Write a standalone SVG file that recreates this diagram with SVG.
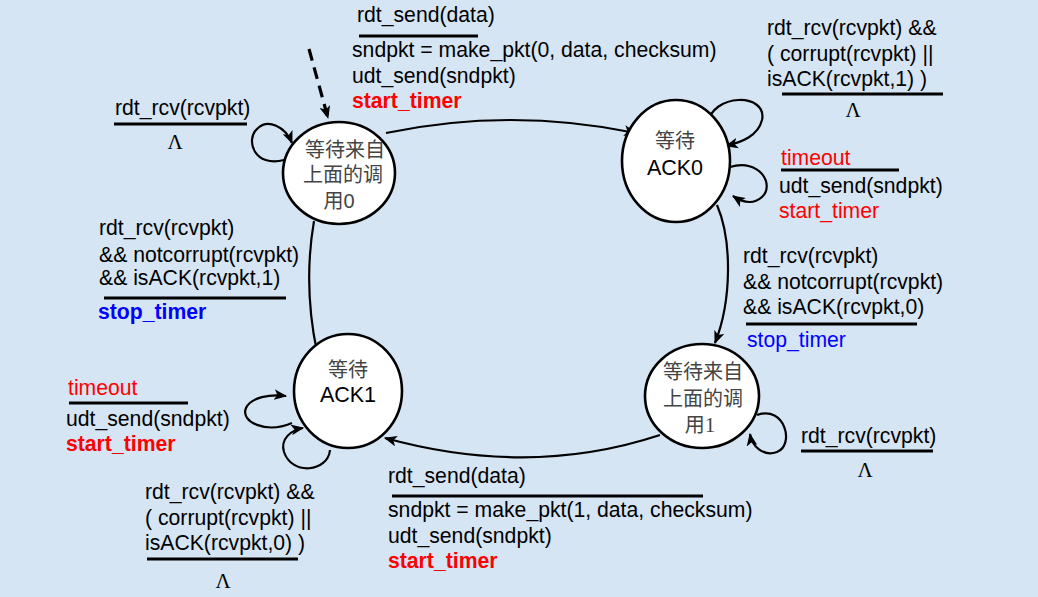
<svg xmlns="http://www.w3.org/2000/svg" width="1038" height="597" viewBox="0 0 1038 597">
<defs>
<marker id="ah" viewBox="0 0 12 10" refX="11" refY="5" markerWidth="13" markerHeight="11" markerUnits="userSpaceOnUse" orient="auto">
<path d="M0,0 L12,5 L0,10 L3,5 Z" fill="#000"/>
</marker>
<style>
.st{fill:#fff;stroke:#000;stroke-width:2.6}
.cj{font-family:"Noto Sans CJK SC","Noto Sans CJK JP",sans-serif;font-size:20px;fill:#444;text-anchor:middle}
.cl{font-family:"Liberation Sans",Arial,sans-serif;font-size:21.5px;fill:#000;text-anchor:middle}
.t{font-family:"Liberation Sans",Arial,sans-serif;font-size:21.2px;fill:#000}
.red{fill:#f00}
.blue{fill:#00f}
.b{font-weight:bold}
.lam{font-family:"Liberation Serif","Times New Roman",serif;font-size:21px;fill:#000;text-anchor:middle}
.bar{stroke:#000;stroke-width:3}
.e{fill:none;stroke:#000;stroke-width:2.2;marker-end:url(#ah)}
.dash{stroke-width:3.2;stroke-dasharray:12,7}
.nohead{marker-end:none}
</style>
</defs>
<rect width="1038" height="597" fill="#d6e5f4"/>

<g id="connectors">
<path class="e dash" d="M309,49 L328,118"/>
<path class="e" d="M386,133 Q510,107 636,133"/>
<path class="e" d="M707,125 C712,92 768,93 762,120 C758,136 742,142 726,146"/>
<path class="e" d="M730,167 C760,158 775,185 762,197 C753,205 742,202 733,196"/>
<path class="e" d="M717,205 C732,240 732,300 715,343"/>
<path class="e" d="M757,415 C785,405 795,445 777,452 C763,457 752,446 750,434"/>
<path class="e" d="M660,435 Q530,478 385,438"/>
<path class="e" d="M292,423 C266,434 240,422 246,408 C251,397 270,394 286,396"/>
<path class="e" d="M330,450 C328,472 292,476 284,452 C280,439 291,430 303,428"/>
<path class="e nohead" d="M317,352 Q303,285 314,221"/>
<path class="e" d="M284,160 C255,168 244,140 258,128 C268,119 285,126 292,143"/>
</g>

<g id="wait0">
<ellipse class="st" cx="339" cy="173" rx="56" ry="51"/>
<text class="cj" x="345" y="157">等待来自</text>
<text class="cj" x="343" y="182">上面的调</text>
<text class="cj" x="339" y="208">用<tspan font-family="Liberation Sans, Arial, sans-serif" font-size="20">0</tspan></text>
</g>

<g id="ack0">
<ellipse class="st" cx="676" cy="161" rx="54" ry="61"/>
<text class="cj" x="675" y="148">等待</text>
<text class="cl" x="675" y="175">ACK0</text>
</g>

<g id="wait1">
<ellipse class="st" cx="702" cy="396" rx="57" ry="52"/>
<text class="cj" x="703" y="379">等待来自</text>
<text class="cj" x="703" y="406">上面的调</text>
<text class="cj" x="700" y="432">用<tspan font-family="Liberation Serif, serif" font-size="21">1</tspan></text>
</g>

<g id="ack1">
<ellipse class="st" cx="348" cy="391" rx="54" ry="57"/>
<text class="cj" x="348" y="377">等待</text>
<text class="cl" x="348" y="402">ACK1</text>
</g>

<g id="label-top">
<text class="t" x="357" y="22">rdt_send(data)</text>
<line class="bar" x1="359" y1="36" x2="478" y2="36"/>
<text class="t" x="352" y="57">sndpkt = make_pkt(0, data, checksum)</text>
<text class="t" x="352" y="83">udt_send(sndpkt)</text>
<text class="t red b" x="352" y="108">start_timer</text>
</g>

<g id="label-ack0-loop1">
<text class="t" x="767" y="35">rdt_rcv(rcvpkt) &amp;&amp;</text>
<text class="t" x="767" y="61">( corrupt(rcvpkt) ||</text>
<text class="t" x="767" y="86">isACK(rcvpkt,1) )</text>
<line class="bar" x1="782" y1="94" x2="943" y2="94"/>
<text class="lam" x="853" y="117">Λ</text>
</g>

<g id="label-ack0-timeout">
<text class="t red" x="781" y="165">timeout</text>
<line class="bar" x1="781" y1="170" x2="899" y2="170"/>
<text class="t" x="779" y="193">udt_send(sndpkt)</text>
<text class="t red" x="779" y="218">start_timer</text>
</g>

<g id="label-ack0-to-wait1">
<text class="t" x="743" y="263">rdt_rcv(rcvpkt)</text>
<text class="t" x="743" y="289">&amp;&amp; notcorrupt(rcvpkt)</text>
<text class="t" x="743" y="314">&amp;&amp; isACK(rcvpkt,0)</text>
<line class="bar" x1="746" y1="324" x2="917" y2="324"/>
<text class="t blue" x="747" y="347">stop_timer</text>
</g>

<g id="label-wait1-loop">
<text class="t" x="801" y="443">rdt_rcv(rcvpkt)</text>
<line class="bar" x1="801" y1="451" x2="933" y2="451"/>
<text class="lam" x="865" y="477">Λ</text>
</g>

<g id="label-bottom">
<text class="t" x="388" y="483">rdt_send(data)</text>
<line class="bar" x1="392" y1="496" x2="703" y2="496"/>
<text class="t" x="388" y="517">sndpkt = make_pkt(1, data, checksum)</text>
<text class="t" x="388" y="543">udt_send(sndpkt)</text>
<text class="t red b" x="388" y="568">start_timer</text>
</g>

<g id="label-ack1-timeout">
<text class="t red" x="68" y="395">timeout</text>
<line class="bar" x1="69" y1="403" x2="188" y2="403"/>
<text class="t" x="66" y="426">udt_send(sndpkt)</text>
<text class="t red b" x="66" y="451">start_timer</text>
</g>

<g id="label-ack1-loop">
<text class="t" x="145" y="499">rdt_rcv(rcvpkt) &amp;&amp;</text>
<text class="t" x="145" y="525">( corrupt(rcvpkt) ||</text>
<text class="t" x="145" y="550">isACK(rcvpkt,0) )</text>
<line class="bar" x1="147" y1="559" x2="298" y2="559"/>
<text class="lam" x="223" y="588">Λ</text>
</g>

<g id="label-wait0-loop">
<text class="t" x="115" y="115">rdt_rcv(rcvpkt)</text>
<line class="bar" x1="114" y1="124" x2="247" y2="124"/>
<text class="lam" x="175" y="149">Λ</text>
</g>

<g id="label-ack1-to-wait0">
<text class="t" x="99" y="235">rdt_rcv(rcvpkt)</text>
<text class="t" x="99" y="262">&amp;&amp; notcorrupt(rcvpkt)</text>
<text class="t" x="99" y="285">&amp;&amp; isACK(rcvpkt,1)</text>
<line class="bar" x1="104" y1="298" x2="286" y2="298"/>
<text class="t blue b" x="98" y="319">stop_timer</text>
</g>
</svg>
